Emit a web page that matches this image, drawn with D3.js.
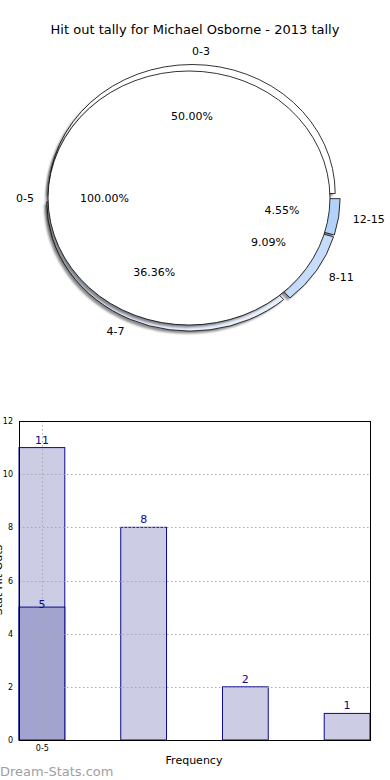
<!DOCTYPE html>
<html>
<head>
<meta charset="utf-8">
<script src="https://cdn.jsdelivr.net/npm/d3@7"></script>
<style>
  body { margin: 0; background: #fff; }
  text { font-family: "DejaVu Sans", sans-serif; }
</style>
</head>
<body>
<div id="chart"></div>
<script>
// ---- data ----
var title = "Hit out tally for Michael Osborne - 2013 tally";
var outerCategories = ["0-3", "4-7", "8-11", "12-15"];
var outerValues = [11, 8, 2, 1];
var outerColors = ["#ffffff", "#e8f0fd", "#c6dcfa", "#b3d2f9"];
var innerCategories = ["0-5"];
var innerValues = [5];
var barTickLabels = ["0-5"];
var yTicks = [0, 2, 4, 6, 8, 10, 12];

var attrs = {
  width: 390,
  height: 780,
  pieCx: 192,
  pieCy: 198,
  innerShiftX: -3,
  stretchX: 1.11,
  outerRadius: 129,
  innerRadius: 127,
  explode: 4.5,
  barLeft: 19,
  barRight: 370,
  barTop: 421,
  barBottom: 740,
  barWidth: 0.45,
  navy: "#0a0a8c"
};

var svg = d3.select("#chart").append("svg")
  .attr("width", attrs.width)
  .attr("height", attrs.height);

var defs = svg.append("defs");
defs.append("filter").attr("id", "blur")
  .append("feGaussianBlur").attr("stdDeviation", 1.2);

svg.append("text")
  .attr("x", 195).attr("y", 34)
  .attr("text-anchor", "middle")
  .attr("font-size", 13)
  .text(title);

// ########## pie (matplotlib style: ccw from 3 o'clock) ##########
var pie = d3.pie().sort(null)
  .startAngle(Math.PI / 2)
  .endAngle(Math.PI / 2 - 2 * Math.PI);

var pieLayer = svg.append("g");
var labelLayer = svg.append("g");

function midXY(d, r) {
  // d3 angle -> screen coords (0 = up, clockwise)
  var a = (d.startAngle + d.endAngle) / 2;
  return [Math.sin(a) * r * attrs.stretchX, -Math.cos(a) * r];
}

function drawPie(cx, cy, values, colors, radius, explode) {
  var arcs = pie(values);
  var g = pieLayer.append("g").attr("transform", "translate(" + cx + "," + cy + ")");
  var arc = d3.arc().innerRadius(0).outerRadius(radius);

  // shadow
  var sh = g.append("g").attr("filter", "url(#blur)");
  arcs.forEach(function (d) {
    var o = midXY(d, explode);
    sh.append("path")
      .attr("transform", "translate(" + (o[0] - 2.5) + "," + (o[1] + 2.5) + ") scale(" + attrs.stretchX + ",1)")
      .attr("d", arc(d))
      .attr("fill", "#000")
      .attr("opacity", 0.45);
  });

  arcs.forEach(function (d, i) {
    var o = midXY(d, explode);
    g.append("path")
      .attr("transform", "translate(" + o[0] + "," + o[1] + ") scale(" + attrs.stretchX + ",1)")
      .attr("d", arc(d))
      .attr("fill", colors[i])
      .attr("stroke", "#000")
      .attr("stroke-width", 0.8)
      .attr("vector-effect", "non-scaling-stroke");
  });
  return { cx: cx, cy: cy, arcs: arcs };
}

function labelPie(p, values, cats, radius, explode) {
  var total = d3.sum(values);
  var g = labelLayer.append("g").attr("transform", "translate(" + p.cx + "," + p.cy + ")");
  p.arcs.forEach(function (d, i) {
    var o = midXY(d, explode);
    var pp = midXY(d, radius * 0.6);
    var lp = midXY(d, radius * 1.1);
    g.append("text")
      .attr("x", o[0] + pp[0]).attr("y", o[1] + pp[1])
      .attr("dy", "0.35em")
      .attr("text-anchor", "middle")
      .attr("font-size", 11)
      .text((values[i] / total * 100).toFixed(2) + "%");
    g.append("text")
      .attr("x", o[0] + lp[0]).attr("y", o[1] + lp[1])
      .attr("dy", "0.35em")
      .attr("text-anchor", lp[0] < 0 ? "end" : "start")
      .attr("font-size", 11)
      .text(cats[i]);
  });
}

var outerPie = drawPie(attrs.pieCx, attrs.pieCy, outerValues, outerColors, attrs.outerRadius, attrs.explode);
var innerPie = drawPie(attrs.pieCx + attrs.innerShiftX, attrs.pieCy, innerValues, ["#ffffff"], attrs.innerRadius, 0);
labelPie(outerPie, outerValues, outerCategories, attrs.outerRadius, attrs.explode);
labelPie(innerPie, innerValues, innerCategories, attrs.innerRadius, 0);

// ########## bar chart ##########
var x = d3.scaleLinear()
  .domain([0, outerValues.length - 1 + attrs.barWidth])
  .range([attrs.barLeft, attrs.barRight]);
var y = d3.scaleLinear()
  .domain([0, 12])
  .range([attrs.barBottom, attrs.barTop]);

var bars = svg.append("g");
bars.selectAll("rect.outer").data(outerValues).enter().append("rect")
  .attr("class", "outer")
  .attr("x", function (d, i) { return x(i); })
  .attr("width", x(attrs.barWidth) - x(0))
  .attr("y", function (d) { return y(d); })
  .attr("height", function (d) { return y(0) - y(d); })
  .attr("fill", "#cccce4")
  .attr("stroke", attrs.navy)
  .attr("stroke-width", 1);

bars.selectAll("rect.inner").data(innerValues).enter().append("rect")
  .attr("class", "inner")
  .attr("x", function (d, i) { return x(i); })
  .attr("width", x(attrs.barWidth) - x(0))
  .attr("y", function (d) { return y(d); })
  .attr("height", function (d) { return y(0) - y(d); })
  .attr("fill", "#a3a3d0")
  .attr("stroke", attrs.navy)
  .attr("stroke-width", 1);

// grid
var grid = svg.append("g")
  .attr("stroke", "#aaa")
  .attr("stroke-dasharray", "1.5,2.5")
  .attr("stroke-width", 1);
yTicks.slice(1, -1).forEach(function (t) {
  grid.append("line")
    .attr("x1", attrs.barLeft).attr("x2", attrs.barRight)
    .attr("y1", Math.round(y(t)) + 0.5).attr("y2", Math.round(y(t)) + 0.5);
});
barTickLabels.forEach(function (t, i) {
  var cx = Math.round(x(i + attrs.barWidth / 2)) + 0.5;
  grid.append("line")
    .attr("x1", cx).attr("x2", cx)
    .attr("y1", attrs.barTop).attr("y2", attrs.barBottom);
});

// value labels
var allBars = outerValues.map(function (v, i) { return { v: v, i: i, off: -4 }; })
  .concat(innerValues.map(function (v, i) { return { v: v, i: i, off: 1 }; }));
svg.selectAll("text.val").data(allBars).enter().append("text")
  .attr("class", "val")
  .attr("x", function (d) { return x(d.i + attrs.barWidth / 2); })
  .attr("y", function (d) { return y(d.v) + d.off; })
  .attr("text-anchor", "middle")
  .attr("font-size", 11)
  .attr("fill", attrs.navy)
  .text(function (d) { return d.v; });

// frame
svg.append("rect")
  .attr("x", attrs.barLeft + 0.5).attr("y", attrs.barTop + 0.5)
  .attr("width", attrs.barRight - attrs.barLeft)
  .attr("height", attrs.barBottom - attrs.barTop)
  .attr("fill", "none")
  .attr("stroke", "#000")
  .attr("stroke-width", 1);

// y axis
var yAxis = svg.append("g")
  .attr("transform", "translate(" + attrs.barLeft + ",0)")
  .call(d3.axisLeft(y).tickValues(yTicks).tickSize(0).tickPadding(6).tickFormat(d3.format("d")));
yAxis.select(".domain").remove();
yAxis.selectAll("text").attr("font-size", 8).attr("font-family", "DejaVu Sans, sans-serif").attr("fill", "#000");

// x axis
var xAxis = svg.append("g")
  .attr("transform", "translate(0," + attrs.barBottom + ")")
  .call(d3.axisBottom(x)
    .tickValues(barTickLabels.map(function (t, i) { return i + attrs.barWidth / 2; }))
    .tickFormat(function (d, i) { return barTickLabels[i]; })
    .tickSize(0).tickPadding(5));
xAxis.select(".domain").remove();
xAxis.selectAll("text").attr("font-size", 8).attr("font-family", "DejaVu Sans, sans-serif").attr("fill", "#000");

svg.append("text")
  .attr("x", 194).attr("y", 764)
  .attr("text-anchor", "middle")
  .attr("font-size", 11)
  .text("Frequency");

// y label is cut off at the left edge, as in the original
svg.append("text")
  .attr("transform", "translate(2,580) rotate(-90)")
  .attr("text-anchor", "middle")
  .attr("font-size", 11)
  .text("Stat Hit Outs");

svg.append("text")
  .attr("x", 0).attr("y", 776)
  .attr("font-size", 13)
  .attr("fill", "#a0a0a0")
  .text("Dream-Stats.com");
</script>
</body>
</html>
